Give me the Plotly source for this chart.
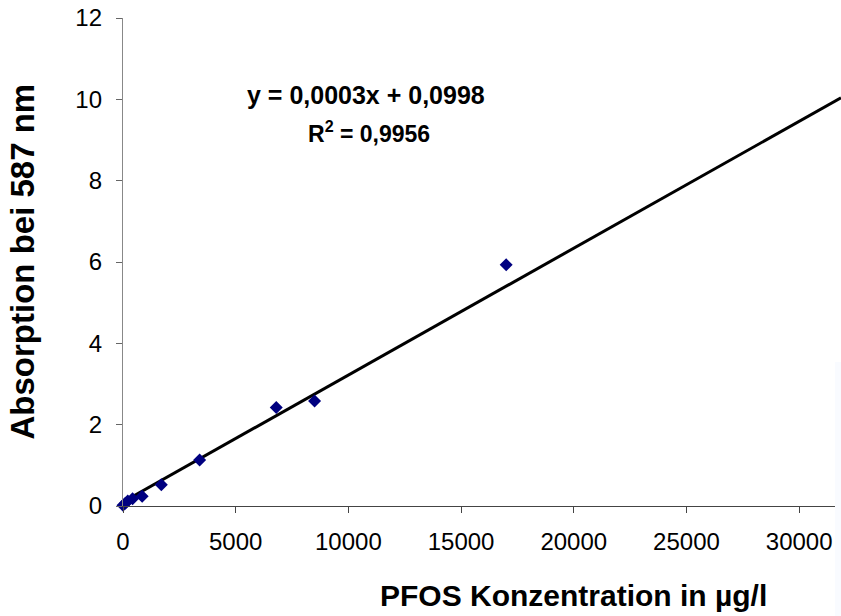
import numpy as np
import plotly.graph_objects as go

# Data
konzentration = [0, 106, 212, 425, 850, 1700, 3400, 6800, 8500, 17000]
absorption = [0.02, 0.07, 0.12, 0.18, 0.24, 0.52, 1.13, 2.42, 2.58, 5.93]

# Linear trendline (as drawn)
trend_slope = 0.000312
trend_intercept = 0.0998
x_max = 31855

x_ticks = [0, 5000, 10000, 15000, 20000, 25000, 30000]
y_ticks = [0, 2, 4, 6, 8, 10, 12]

trend_x = np.array([0, x_max])
trend_y = trend_slope * trend_x + trend_intercept

FONT = "Liberation Sans, Arial, sans-serif"

fig = go.Figure()
fig.add_trace(go.Scatter(
    x=trend_x, y=trend_y, mode="lines",
    line=dict(color="black", width=3), hoverinfo="skip", showlegend=False))
fig.add_trace(go.Scatter(
    x=konzentration, y=absorption, mode="markers",
    marker=dict(symbol="diamond", size=10, color="#000080",
                line=dict(width=0)),
    showlegend=False, cliponaxis=False))

fig.update_layout(
    width=841, height=616,
    margin=dict(l=123, r=0, t=18, b=110),
    paper_bgcolor="white", plot_bgcolor="white",
    font=dict(family=FONT, color="black", size=24),
    xaxis=dict(range=[0, x_max], tickvals=x_ticks,
               ticktext=[str(v) for v in x_ticks],
               showgrid=False, zeroline=False, showline=True,
               linecolor="#444444", linewidth=1.3,
               ticks="outside", ticklen=6, tickcolor="#444444",
               tickfont=dict(size=24), ticklabelstandoff=8),
    yaxis=dict(range=[0, 12], tickvals=y_ticks,
               ticktext=[str(v) for v in y_ticks],
               showgrid=False, zeroline=False, showline=True,
               linecolor="#888888", linewidth=1.3,
               ticks="outside", ticklen=6, tickcolor="#666666",
               tickfont=dict(size=24), ticklabelstandoff=9),
)

fig.add_annotation(text="<b>PFOS Konzentration in µg/l</b>",
                   xref="paper", yref="paper", x=0.627, y=-0.184,
                   xanchor="center", yanchor="middle", showarrow=False,
                   font=dict(size=30, family=FONT))
fig.add_annotation(text="<b>Absorption bei 587 nm</b>",
                   xref="paper", yref="paper", x=-0.14, y=0.502,
                   xanchor="center", yanchor="middle", showarrow=False,
                   textangle=-90, font=dict(size=33, family=FONT))
fig.add_annotation(text="<b>y = 0,0003x + 0,0998</b>",
                   xref="paper", yref="paper", x=0.339, y=0.842,
                   xanchor="center", yanchor="middle", showarrow=False,
                   font=dict(size=25, family=FONT))
fig.add_annotation(text="<b>R<sup>2</sup> = 0,9956</b>",
                   xref="paper", yref="paper", x=0.343, y=0.766,
                   xanchor="center", yanchor="middle", showarrow=False,
                   font=dict(size=23, family=FONT))

fig.add_shape(type="rect", xref="paper", yref="paper",
              x0=0.9916, x1=1.0, y0=-0.2254, y1=0.295,
              fillcolor="#f9fbff", line=dict(width=0), layer="above")

fig.write_html("out.html")
